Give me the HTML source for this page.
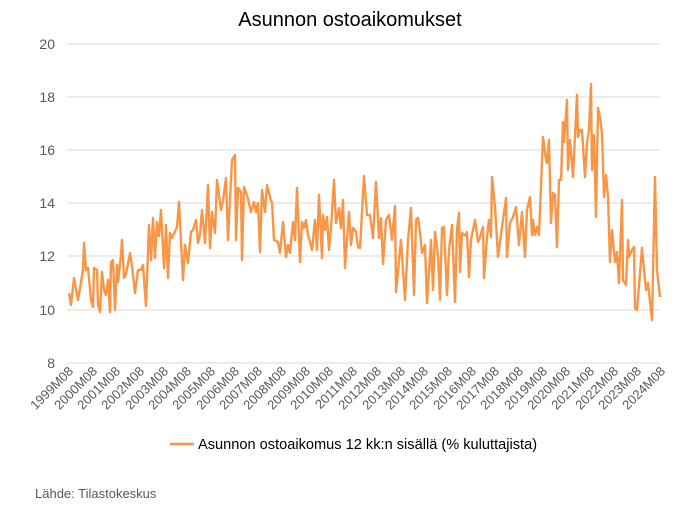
<!DOCTYPE html>
<html><head><meta charset="utf-8"><style>
body{margin:0;background:#fff;width:682px;height:509px;overflow:hidden;font-family:"Liberation Sans",sans-serif}
</style></head><body>
<svg width="682" height="509" xmlns="http://www.w3.org/2000/svg" font-family="Liberation Sans, sans-serif">
<text x="350" y="26" font-size="20" text-anchor="middle" fill="#000">Asunnon ostoaikomukset</text>
<g stroke="#d9d9d9" stroke-width="1">
<line x1="67" y1="44" x2="660" y2="44"/><line x1="67" y1="97" x2="660" y2="97"/><line x1="67" y1="150" x2="660" y2="150"/><line x1="67" y1="203" x2="660" y2="203"/><line x1="67" y1="256" x2="660" y2="256"/><line x1="67" y1="310" x2="660" y2="310"/><line x1="67" y1="363" x2="660" y2="363"/>
</g>
<g font-size="14" fill="#595959" text-anchor="end">
<text x="55" y="49">20</text><text x="55" y="102">18</text><text x="55" y="155">16</text><text x="55" y="208">14</text><text x="55" y="261">12</text><text x="55" y="315">10</text><text x="55" y="368">8</text>
</g>
<g font-size="13" fill="#595959" text-anchor="end">
<text transform="translate(74,372) rotate(-45)">1999M08</text>
<text transform="translate(98,372) rotate(-45)">2000M08</text>
<text transform="translate(121,372) rotate(-45)">2001M08</text>
<text transform="translate(145,372) rotate(-45)">2002M08</text>
<text transform="translate(169,372) rotate(-45)">2003M08</text>
<text transform="translate(192,372) rotate(-45)">2004M08</text>
<text transform="translate(216,372) rotate(-45)">2005M08</text>
<text transform="translate(240,372) rotate(-45)">2006M08</text>
<text transform="translate(263,372) rotate(-45)">2007M08</text>
<text transform="translate(287,372) rotate(-45)">2008M08</text>
<text transform="translate(311,372) rotate(-45)">2009M08</text>
<text transform="translate(334,372) rotate(-45)">2010M08</text>
<text transform="translate(358,372) rotate(-45)">2011M08</text>
<text transform="translate(382,372) rotate(-45)">2012M08</text>
<text transform="translate(406,372) rotate(-45)">2013M08</text>
<text transform="translate(429,372) rotate(-45)">2014M08</text>
<text transform="translate(453,372) rotate(-45)">2015M08</text>
<text transform="translate(477,372) rotate(-45)">2016M08</text>
<text transform="translate(500,372) rotate(-45)">2017M08</text>
<text transform="translate(524,372) rotate(-45)">2018M08</text>
<text transform="translate(548,372) rotate(-45)">2019M08</text>
<text transform="translate(571,372) rotate(-45)">2020M08</text>
<text transform="translate(595,372) rotate(-45)">2021M08</text>
<text transform="translate(619,372) rotate(-45)">2022M08</text>
<text transform="translate(642,372) rotate(-45)">2023M08</text>
<text transform="translate(666,372) rotate(-45)">2024M08</text>
</g>
<polyline fill="none" stroke="#f79646" stroke-width="2.4" stroke-linejoin="round" points="
69,293 71,305 74,278 78,300 83,270 84,243 86,270 88,268 91,300 93,307 94,268 97,270 98,305 100,312 102,272 104,290 106,295 108,280 110,312 111,262 113,260 115,310 117,265 118,282 121,255 122,240 124,278 126,274 130,253 132,266 135,293 138,270 141,270 143,265 146,306 149,225 151,260 153,218 155,258 157,222 159,236 161,210 164,268 166,225 168,278 170,233 172,238 177,227 179,202 183,280 185,245 188,263 191,232 193,230 196,220 198,243 200,235 202,210 205,243 208,185 210,248 212,212 215,233 217,180 221,210 223,201 226,178 228,240 230,200 232,160 235,155 236,240 238,188 241,192 242,260 244,187 247,195 251,212 254,202 256,212 258,203 260,252 262,190 265,212 267,185 271,201 272,202 274,240 278,242 280,253 283,222 286,257 288,245 290,253 293,222 295,240 297,188 300,262 302,222 304,228 306,220 308,235 310,242 312,250 315,220 317,250 319,195 322,258 323,215 325,230 327,217 329,250 331,228 334,180 336,223 339,208 341,228 343,200 345,268 349,212 351,245 353,228 356,232 358,247 360,248 364,176 367,215 370,215 373,238 376,182 379,238 381,218 383,264 386,220 389,215 392,240 395,206 396,292 401,240 405,300 408,240 411,208 414,295 416,220 418,218 420,232 422,253 425,245 427,303 431,240 433,290 435,232 438,255 440,300 442,228 444,227 447,295 449,250 452,225 455,302 457,229 459,213 460,272 462,233 466,236 467,232 469,277 471,240 475,220 478,242 480,237 483,227 484,278 487,237 489,220 491,237 492,177 495,207 498,257 502,227 506,198 507,257 510,223 513,217 516,207 519,245 522,212 525,257 527,210 530,197 532,235 533,220 535,235 537,227 539,235 543,137 546,160 547,163 549,140 551,223 553,193 555,195 557,247 559,180 561,180 563,122 564,142 567,100 568,170 570,140 573,177 577,95 578,137 580,130 582,130 585,177 587,143 589,130 591,84 592,170 594,135 596,217 598,108 600,117 602,133 604,197 606,175 608,197 610,262 612,230 615,262 617,252 619,283 622,200 623,280 626,285 628,240 629,257 632,250 634,247 635,308 637,310 642,248 646,290 648,283 652,320 655,177 657,270 660,297"/>
<line x1="170" y1="444" x2="194" y2="444" stroke="#f79646" stroke-width="2.4"/>
<text x="198" y="449" font-size="14.6" fill="#000">Asunnon ostoaikomus 12 kk:n sisällä (% kuluttajista)</text>
<text x="35" y="498" font-size="13" fill="#595959">Lähde: Tilastokeskus</text>
</svg>
</body></html>
